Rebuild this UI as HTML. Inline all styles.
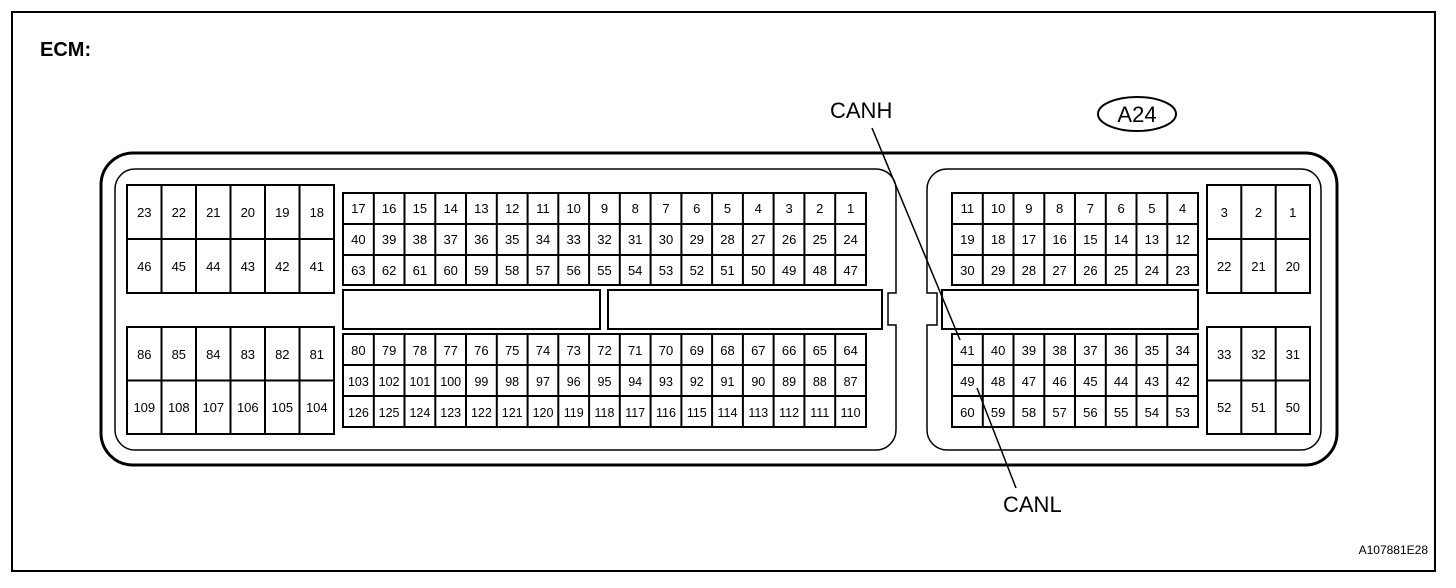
<!DOCTYPE html>
<html><head><meta charset="utf-8"><style>
html,body{margin:0;padding:0;background:#fff}
svg{display:block}
.n{font-family:"Liberation Sans",sans-serif;font-size:13px;text-anchor:middle;fill:#000}
.l{font-family:"Liberation Sans",sans-serif;font-size:22px;fill:#000}
</style></head><body>
<svg width="1456" height="588" viewBox="0 0 1456 588" xmlns="http://www.w3.org/2000/svg">
<rect x="12" y="12" width="1423" height="559" fill="none" stroke="#000" stroke-width="2"/>
<text x="40" y="56" class="l" style="font-weight:bold;font-size:20px">ECM:</text>
<text x="830" y="118" class="l">CANH</text>
<text x="1003" y="512" class="l">CANL</text>
<ellipse cx="1137" cy="114" rx="39" ry="17" fill="none" stroke="#000" stroke-width="2"/>
<text x="1137" y="122" class="l" text-anchor="middle">A24</text>
<text x="1428" y="554" class="n" style="text-anchor:end;font-size:12px">A107881E28</text>
<rect x="101" y="153" width="1236" height="312" rx="32" fill="none" stroke="#000" stroke-width="3"/>
<path d="M135,169 H876 A20,20 0 0 1 896,189 V293 H888 V325 H896 V430 A20,20 0 0 1 876,450 H135 A20,20 0 0 1 115,430 V189 A20,20 0 0 1 135,169 Z" fill="none" stroke="#000" stroke-width="1.5"/>
<path d="M947,169 H1301 A20,20 0 0 1 1321,189 V430 A20,20 0 0 1 1301,450 H947 A20,20 0 0 1 927,430 V325 H937 V293 H927 V189 A20,20 0 0 1 947,169 Z" fill="none" stroke="#000" stroke-width="1.5"/>
<g fill="none" stroke="#000" stroke-width="2">
<rect x="343" y="290" width="257" height="39"/>
<rect x="608" y="290" width="274" height="39"/>
<rect x="942" y="290" width="256" height="39"/>
<!-- TL -->
<rect x="127" y="185" width="207" height="108"/>
<path d="M127,239H334M161.5,185V293M196,185V293M230.5,185V293M265,185V293M299.5,185V293"/>
<rect x="127" y="327" width="207" height="107"/>
<path d="M127,380.5H334M161.5,327V434M196,327V434M230.5,327V434M265,327V434M299.5,327V434"/>
<!-- middle -->
<rect x="343" y="193" width="523" height="92"/>
<path d="M343,224H866M343,255H866"/>
<path d="M373.8,193V285M404.5,193V285M435.3,193V285M466,193V285M496.8,193V285M527.6,193V285M558.3,193V285M589.1,193V285M619.8,193V285M650.6,193V285M681.4,193V285M712.1,193V285M742.9,193V285M773.6,193V285M804.4,193V285M835.2,193V285"/>
<rect x="343" y="334" width="523" height="93"/>
<path d="M343,365H866M343,396H866"/>
<path d="M373.8,334V427M404.5,334V427M435.3,334V427M466,334V427M496.8,334V427M527.6,334V427M558.3,334V427M589.1,334V427M619.8,334V427M650.6,334V427M681.4,334V427M712.1,334V427M742.9,334V427M773.6,334V427M804.4,334V427M835.2,334V427"/>
<!-- right -->
<rect x="952" y="193" width="246" height="92"/>
<path d="M952,224H1198M952,255H1198M982.8,193V285M1013.5,193V285M1044.3,193V285M1075,193V285M1105.8,193V285M1136.5,193V285M1167.3,193V285"/>
<rect x="952" y="334" width="246" height="93"/>
<path d="M952,365H1198M952,396H1198M982.8,334V427M1013.5,334V427M1044.3,334V427M1075,334V427M1105.8,334V427M1136.5,334V427M1167.3,334V427"/>
<rect x="1207" y="185" width="103" height="108"/>
<path d="M1207,239H1310M1241.3,185V293M1275.7,185V293"/>
<rect x="1207" y="327" width="103" height="107"/>
<path d="M1207,380.5H1310M1241.3,327V434M1275.7,327V434"/>
</g>
<line x1="872" y1="128" x2="960" y2="340" stroke="#000" stroke-width="1.5"/>
<line x1="1016" y1="488" x2="977" y2="388" stroke="#000" stroke-width="1.5"/>
<g class="n">
<text x="144.3" y="217">23</text><text x="178.8" y="217">22</text><text x="213.3" y="217">21</text><text x="247.8" y="217">20</text><text x="282.3" y="217">19</text><text x="316.8" y="217">18</text>
<text x="144.3" y="271">46</text><text x="178.8" y="271">45</text><text x="213.3" y="271">44</text><text x="247.8" y="271">43</text><text x="282.3" y="271">42</text><text x="316.8" y="271">41</text>
<text x="144.3" y="359">86</text><text x="178.8" y="359">85</text><text x="213.3" y="359">84</text><text x="247.8" y="359">83</text><text x="282.3" y="359">82</text><text x="316.8" y="359">81</text>
<text x="144.3" y="412">109</text><text x="178.8" y="412">108</text><text x="213.3" y="412">107</text><text x="247.8" y="412">106</text><text x="282.3" y="412">105</text><text x="316.8" y="412">104</text>

<text x="358.4" y="213">17</text><text x="389.1" y="213">16</text><text x="419.9" y="213">15</text><text x="450.7" y="213">14</text><text x="481.4" y="213">13</text><text x="512.2" y="213">12</text><text x="543" y="213">11</text><text x="573.7" y="213">10</text><text x="604.5" y="213">9</text><text x="635.2" y="213">8</text><text x="666" y="213">7</text><text x="696.8" y="213">6</text><text x="727.5" y="213">5</text><text x="758.3" y="213">4</text><text x="789.1" y="213">3</text><text x="819.8" y="213">2</text><text x="850.6" y="213">1</text>
<text x="358.4" y="244">40</text><text x="389.1" y="244">39</text><text x="419.9" y="244">38</text><text x="450.7" y="244">37</text><text x="481.4" y="244">36</text><text x="512.2" y="244">35</text><text x="543" y="244">34</text><text x="573.7" y="244">33</text><text x="604.5" y="244">32</text><text x="635.2" y="244">31</text><text x="666" y="244">30</text><text x="696.8" y="244">29</text><text x="727.5" y="244">28</text><text x="758.3" y="244">27</text><text x="789.1" y="244">26</text><text x="819.8" y="244">25</text><text x="850.6" y="244">24</text>
<text x="358.4" y="275">63</text><text x="389.1" y="275">62</text><text x="419.9" y="275">61</text><text x="450.7" y="275">60</text><text x="481.4" y="275">59</text><text x="512.2" y="275">58</text><text x="543" y="275">57</text><text x="573.7" y="275">56</text><text x="604.5" y="275">55</text><text x="635.2" y="275">54</text><text x="666" y="275">53</text><text x="696.8" y="275">52</text><text x="727.5" y="275">51</text><text x="758.3" y="275">50</text><text x="789.1" y="275">49</text><text x="819.8" y="275">48</text><text x="850.6" y="275">47</text>

<text x="358.4" y="355">80</text><text x="389.1" y="355">79</text><text x="419.9" y="355">78</text><text x="450.7" y="355">77</text><text x="481.4" y="355">76</text><text x="512.2" y="355">75</text><text x="543" y="355">74</text><text x="573.7" y="355">73</text><text x="604.5" y="355">72</text><text x="635.2" y="355">71</text><text x="666" y="355">70</text><text x="696.8" y="355">69</text><text x="727.5" y="355">68</text><text x="758.3" y="355">67</text><text x="789.1" y="355">66</text><text x="819.8" y="355">65</text><text x="850.6" y="355">64</text>
<g style="font-size:12.5px">
<text x="358.4" y="386">103</text><text x="389.1" y="386">102</text><text x="419.9" y="386">101</text><text x="450.7" y="386">100</text><text x="481.4" y="386">99</text><text x="512.2" y="386">98</text><text x="543" y="386">97</text><text x="573.7" y="386">96</text><text x="604.5" y="386">95</text><text x="635.2" y="386">94</text><text x="666" y="386">93</text><text x="696.8" y="386">92</text><text x="727.5" y="386">91</text><text x="758.3" y="386">90</text><text x="789.1" y="386">89</text><text x="819.8" y="386">88</text><text x="850.6" y="386">87</text>
<text x="358.4" y="417">126</text><text x="389.1" y="417">125</text><text x="419.9" y="417">124</text><text x="450.7" y="417">123</text><text x="481.4" y="417">122</text><text x="512.2" y="417">121</text><text x="543" y="417">120</text><text x="573.7" y="417">119</text><text x="604.5" y="417">118</text><text x="635.2" y="417">117</text><text x="666" y="417">116</text><text x="696.8" y="417">115</text><text x="727.5" y="417">114</text><text x="758.3" y="417">113</text><text x="789.1" y="417">112</text><text x="819.8" y="417">111</text><text x="850.6" y="417">110</text>
</g>

<text x="967.4" y="213">11</text><text x="998.1" y="213">10</text><text x="1028.9" y="213">9</text><text x="1059.6" y="213">8</text><text x="1090.4" y="213">7</text><text x="1121.1" y="213">6</text><text x="1151.9" y="213">5</text><text x="1182.6" y="213">4</text>
<text x="967.4" y="244">19</text><text x="998.1" y="244">18</text><text x="1028.9" y="244">17</text><text x="1059.6" y="244">16</text><text x="1090.4" y="244">15</text><text x="1121.1" y="244">14</text><text x="1151.9" y="244">13</text><text x="1182.6" y="244">12</text>
<text x="967.4" y="275">30</text><text x="998.1" y="275">29</text><text x="1028.9" y="275">28</text><text x="1059.6" y="275">27</text><text x="1090.4" y="275">26</text><text x="1121.1" y="275">25</text><text x="1151.9" y="275">24</text><text x="1182.6" y="275">23</text>
<text x="967.4" y="355">41</text><text x="998.1" y="355">40</text><text x="1028.9" y="355">39</text><text x="1059.6" y="355">38</text><text x="1090.4" y="355">37</text><text x="1121.1" y="355">36</text><text x="1151.9" y="355">35</text><text x="1182.6" y="355">34</text>
<text x="967.4" y="386">49</text><text x="998.1" y="386">48</text><text x="1028.9" y="386">47</text><text x="1059.6" y="386">46</text><text x="1090.4" y="386">45</text><text x="1121.1" y="386">44</text><text x="1151.9" y="386">43</text><text x="1182.6" y="386">42</text>
<text x="967.4" y="417">60</text><text x="998.1" y="417">59</text><text x="1028.9" y="417">58</text><text x="1059.6" y="417">57</text><text x="1090.4" y="417">56</text><text x="1121.1" y="417">55</text><text x="1151.9" y="417">54</text><text x="1182.6" y="417">53</text>

<text x="1224.2" y="217">3</text><text x="1258.5" y="217">2</text><text x="1292.8" y="217">1</text>
<text x="1224.2" y="271">22</text><text x="1258.5" y="271">21</text><text x="1292.8" y="271">20</text>
<text x="1224.2" y="359">33</text><text x="1258.5" y="359">32</text><text x="1292.8" y="359">31</text>
<text x="1224.2" y="412">52</text><text x="1258.5" y="412">51</text><text x="1292.8" y="412">50</text>
</g>
</svg>
</body></html>
